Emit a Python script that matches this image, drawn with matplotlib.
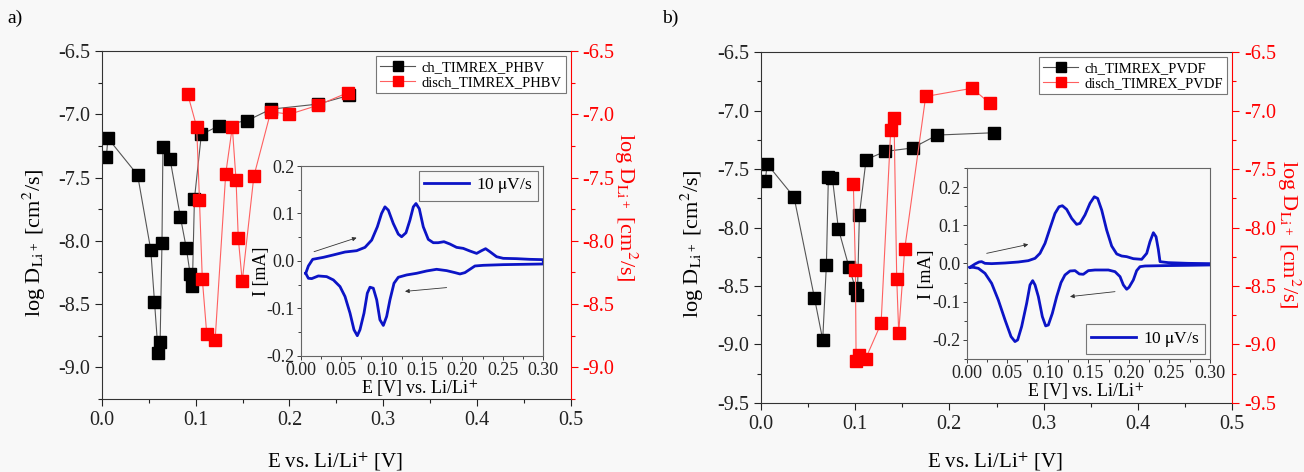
import numpy as np
import matplotlib
matplotlib.use("Agg")
import matplotlib.pyplot as plt
from matplotlib.ticker import MultipleLocator, FormatStrFormatter

plt.rcParams["font.family"] = ["Liberation Serif", "DejaVu Serif"]
plt.rcParams["mathtext.fontset"] = "stix"
plt.rcParams["axes.unicode_minus"] = False

# ---- panel a: TIMREX / PHBV ----
a_ch_E = [0.0046, 0.0064, 0.038, 0.052, 0.056, 0.060, 0.062, 0.064, 0.065, 0.0725,
          0.0836, 0.090, 0.094, 0.0964, 0.0986, 0.106, 0.125, 0.155, 0.180, 0.230, 0.264]
a_ch_D = [-7.34, -7.19, -7.48, -8.07, -8.48, -8.89, -8.80, -8.02, -7.26, -7.35,
          -7.81, -8.06, -8.26, -8.36, -7.67, -7.16, -7.09, -7.05, -6.96, -6.92, -6.85]
a_dis_E = [0.0914, 0.101, 0.104, 0.107, 0.1118, 0.1207, 0.132, 0.139, 0.143, 0.1454,
           0.1496, 0.162, 0.180, 0.200, 0.230, 0.262]
a_dis_D = [-6.84, -7.10, -7.68, -8.30, -8.74, -8.78, -7.47, -7.10, -7.52, -7.98,
           -8.32, -7.49, -6.98, -7.00, -6.93, -6.83]

# CV loop (10 uV/s), anodic branch left->right then cathodic branch right->left
a_cv_E = [0.0062, 0.0095, 0.0148, 0.028, 0.040, 0.0548, 0.0692, 0.0795, 0.0878, 0.0948,
          0.100, 0.1042, 0.1084, 0.1145, 0.1207, 0.1248, 0.1302, 0.1351, 0.1393, 0.1426,
          0.1467, 0.1516, 0.1578, 0.164, 0.170, 0.1772, 0.1846, 0.1928, 0.201, 0.2093,
          0.2176, 0.2237, 0.2287, 0.234, 0.2423, 0.2505, 0.267, 0.2835, 0.300,
          0.300, 0.2752, 0.2505, 0.2258, 0.2155, 0.2093, 0.2031, 0.197, 0.1908, 0.1805,
          0.1681, 0.1558, 0.1434, 0.131, 0.1207, 0.1154, 0.1104, 0.1063, 0.1022, 0.098,
          0.094, 0.0898, 0.0857, 0.0824, 0.0783, 0.0733, 0.070, 0.0659, 0.061, 0.0548,
          0.0486, 0.0404, 0.0321, 0.0218, 0.0136, 0.0095, 0.0062]
a_cv_I = [-0.026, -0.0105, 0.0035, 0.0077, 0.0126, 0.0189, 0.0217, 0.0287, 0.044, 0.072,
          0.100, 0.114, 0.107, 0.079, 0.0566, 0.051, 0.0594, 0.086, 0.114, 0.121,
          0.110, 0.072, 0.0455, 0.0385, 0.0385, 0.0406, 0.0357, 0.0287, 0.0266, 0.021,
          0.016, 0.0217, 0.0259, 0.0196, 0.009, 0.0056, 0.0049, 0.0035, 0.0028,
          -0.0063, -0.007, -0.0077, -0.0091, -0.0105, -0.0175, -0.0245, -0.0273, -0.0245, -0.0203,
          -0.0175, -0.021, -0.0259, -0.0294, -0.0343, -0.0469, -0.0818, -0.1168, -0.1357, -0.1238,
          -0.0818, -0.0573, -0.0552, -0.0678, -0.1098, -0.1448, -0.1573, -0.1448, -0.1098, -0.0748,
          -0.0538, -0.0399, -0.0329, -0.0315, -0.0371, -0.0364, -0.026]

# ---- panel b: TIMREX / PVDF ----
b_ch_E = [0.0046, 0.007, 0.0353, 0.0569, 0.0657, 0.0696, 0.0717, 0.076, 0.0823,
          0.0936, 0.1004, 0.1025, 0.1046, 0.1117, 0.1318, 0.161, 0.187, 0.247]
b_ch_D = [-7.60, -7.46, -7.74, -8.60, -8.96, -8.32, -7.57, -7.58, -8.01,
          -8.34, -8.52, -8.58, -7.89, -7.42, -7.35, -7.32, -7.21, -7.19]
b_dis_E = [0.0982, 0.1004, 0.1011, 0.1042, 0.1113, 0.1276, 0.1378, 0.1413, 0.1442,
           0.1463, 0.1527, 0.1749, 0.224, 0.2432]
b_dis_D = [-7.63, -8.36, -9.14, -9.09, -9.12, -8.82, -7.17, -7.06, -8.44,
           -8.90, -8.18, -6.88, -6.81, -6.94]

b_cv_E = [0.0041, 0.0103, 0.0152, 0.0185, 0.0226, 0.0308, 0.0473, 0.0637, 0.076, 0.0843,
          0.0904, 0.0966, 0.1027, 0.1089, 0.1139, 0.118, 0.1233, 0.1295, 0.1356, 0.1397,
          0.1459, 0.1521, 0.1574, 0.1615, 0.1665, 0.1726, 0.1788, 0.185, 0.1911, 0.1973,
          0.2055, 0.2158, 0.222, 0.226, 0.2302, 0.2335, 0.2363, 0.2384, 0.2487, 0.2733, 0.300,
          0.300, 0.2733, 0.2404, 0.2199, 0.2137, 0.2096, 0.2055, 0.2002, 0.1973, 0.1932,
          0.1891, 0.1829, 0.1747, 0.1582, 0.150, 0.1438, 0.1389, 0.1336, 0.1274, 0.1212,
          0.1163, 0.111, 0.1056, 0.1007, 0.0974, 0.0933, 0.0884, 0.0843, 0.0814, 0.0781,
          0.074, 0.0678, 0.0629, 0.0596, 0.0547, 0.0473, 0.039, 0.0308, 0.0226, 0.0144,
          0.0082, 0.0041]
b_cv_I = [-0.010, -0.0013, 0.0039, 0.0048, 0.0004, -0.0004, 0.0013, 0.0039, 0.0074, 0.0135,
          0.0266, 0.0527, 0.0919, 0.131, 0.1486, 0.1512, 0.1416, 0.118, 0.1024, 0.105,
          0.1272, 0.1577, 0.1747, 0.1704, 0.1399, 0.0876, 0.0457, 0.025, 0.0196, 0.0179,
          0.0126, 0.0109, 0.0266, 0.057, 0.0806, 0.070, 0.037, 0.0048, 0.0022, 0.0004, -0.0004,
          -0.0039, -0.0048, -0.0057, -0.0065, -0.0083, -0.0187, -0.0431, -0.0623, -0.0675, -0.0562,
          -0.0344, -0.0214, -0.017, -0.017, -0.0187, -0.0283, -0.0274, -0.0187, -0.0196, -0.0301,
          -0.0501, -0.0867, -0.1307, -0.161, -0.1634, -0.139, -0.0867, -0.0562, -0.0449, -0.0562,
          -0.1041, -0.1651, -0.200, -0.2044, -0.1913, -0.1477, -0.0954, -0.0519, -0.0257, -0.0126,
          -0.010, -0.010]

BG = "#f8f8f8"
BLUE = "#0c14c6"
YLAB = r"log D$_{\mathrm{Li^+}}$ [cm$^{2}$/s]"

fig = plt.figure(figsize=(13.04, 4.72), dpi=100, facecolor=BG)


def main_panel(rect, ch_E, ch_D, dis_E, dis_D, ylim, names, lab_pos):
    ax = fig.add_axes(rect)
    ax.set_facecolor(BG)
    ax.plot(ch_E, ch_D, "-s", color="#555555", lw=0.8, ms=8.5,
            mfc="black", mec="black", label=names[0])
    axr = ax.twinx()
    axr.plot(dis_E, dis_D, "-s", color="#ff6060", lw=0.8, ms=8.5,
             mfc="#ff0000", mec="#ff0000", label=names[1])

    ax.set_xlim(0, 0.5)
    ax.set_ylim(ylim)
    axr.set_ylim(ylim)
    for a in (ax, axr):
        a.yaxis.set_major_locator(MultipleLocator(0.5))
        a.yaxis.set_minor_locator(MultipleLocator(0.25))
        a.yaxis.set_major_formatter(FormatStrFormatter("%.1f"))
    ax.xaxis.set_major_locator(MultipleLocator(0.1))
    ax.xaxis.set_minor_locator(MultipleLocator(0.05))
    ax.xaxis.set_major_formatter(FormatStrFormatter("%.1f"))

    ax.tick_params(which="both", direction="out", width=0.8, labelsize=14.5,
                   colors="#222222", top=False, right=False)
    ax.tick_params(which="major", length=5)
    ax.tick_params(which="minor", length=3)
    axr.tick_params(which="both", direction="out", width=0.8, labelsize=14.5,
                    colors="red")
    axr.tick_params(which="major", length=5)
    axr.tick_params(which="minor", length=3)

    for s in ax.spines.values():
        s.set_color("#333333")
    ax.spines["right"].set_visible(False)
    for k in ("left", "top", "bottom"):
        axr.spines[k].set_visible(False)
    axr.spines["right"].set_color("red")

    ax.set_ylabel(YLAB, fontsize=16, ha="center", va="center")
    ax.yaxis.set_label_coords(lab_pos[0], lab_pos[1])
    axr.set_ylabel(YLAB, fontsize=16, color="red", rotation=270,
                   ha="center", va="center")
    axr.yaxis.set_label_coords(lab_pos[2], lab_pos[3])
    ax.set_xlabel(r"E vs. Li/Li$^{+}$ [V]", fontsize=15, ha="center", va="center")
    ax.xaxis.set_label_coords(0.497, lab_pos[4])

    h1, l1 = ax.get_legend_handles_labels()
    h2, l2 = axr.get_legend_handles_labels()
    leg = axr.legend(h1 + h2, l1 + l2, loc="upper right", fontsize=10.5,
                     fancybox=False, edgecolor="#777777", facecolor="white",
                     framealpha=1, borderaxespad=0.35, handlelength=2.4,
                     numpoints=1, borderpad=0.3, labelspacing=0.15,
                     handletextpad=0.4, markerscale=0.8)
    leg.get_frame().set_linewidth(0.8)
    return ax


def cv_inset(rect, E, I, ylim, legloc, arrows, lab_pos):
    ax = fig.add_axes(rect)
    ax.set_facecolor(BG)
    ax.plot(E, I, color=BLUE, lw=2.0, label=r"10 $\mathrm{\mu}$V/s")
    ax.set_xlim(0, 0.3)
    ax.set_ylim(ylim)
    ax.xaxis.set_major_locator(MultipleLocator(0.05))
    ax.xaxis.set_minor_locator(MultipleLocator(0.025))
    ax.xaxis.set_major_formatter(FormatStrFormatter("%.2f"))
    ax.yaxis.set_major_locator(MultipleLocator(0.1))
    ax.yaxis.set_minor_locator(MultipleLocator(0.05))
    ax.yaxis.set_major_formatter(FormatStrFormatter("%.1f"))
    ax.tick_params(which="both", direction="out", width=0.6, labelsize=13,
                   colors="#222222", pad=1.5)
    ax.tick_params(which="major", length=3)
    ax.tick_params(which="minor", length=2)
    for s in ax.spines.values():
        s.set_color("#666666")
        s.set_linewidth(0.8)
    for tail, head in arrows:
        ax.annotate("", xy=head, xytext=tail,
                    arrowprops=dict(arrowstyle="-|>", color="#333333", lw=0.6,
                                    mutation_scale=6, shrinkA=0, shrinkB=0))
    ax.set_ylabel("I [mA]", fontsize=13, ha="center", va="center")
    ax.yaxis.set_label_coords(lab_pos[0], lab_pos[1])
    ax.set_xlabel(r"E [V] vs. Li/Li$^{+}$", fontsize=13, ha="center", va="center")
    ax.xaxis.set_label_coords(0.49, lab_pos[2])
    leg = ax.legend(loc=legloc, fontsize=12.5, fancybox=False, edgecolor="#777777",
                    facecolor=BG, framealpha=1, borderaxespad=0.3,
                    handlelength=2.6, borderpad=0.3, handletextpad=0.4)
    leg.get_frame().set_linewidth(0.8)
    return ax


main_panel([0.0782, 0.1547, 0.3595, 0.7373], a_ch_E, a_ch_D, a_dis_E, a_dis_D,
           (-9.25, -6.5), ["ch_TIMREX_PHBV", "disch_TIMREX_PHBV"],
           (-0.145, 0.45, 1.118, 0.55, -0.181))
cv_inset([0.2306, 0.2458, 0.186, 0.4025], a_cv_E, a_cv_I, (-0.2, 0.2), "upper right",
         [((0.0165, 0.0196), (0.0692, 0.049)), ((0.1805, -0.056), (0.129, -0.064))],
         (-0.16, 0.447, -0.175))

main_panel([0.5834, 0.1462, 0.3616, 0.7436], b_ch_E, b_ch_D, b_dis_E, b_dis_D,
           (-9.5, -6.5), ["ch_TIMREX_PVDF", "disch_TIMREX_PVDF"],
           (-0.146, 0.453, 1.119, 0.48, -0.168))
cv_inset([0.7413, 0.2394, 0.1866, 0.4047], b_cv_E, b_cv_I, (-0.25, 0.25), "lower right",
         [((0.0247, 0.0266), (0.076, 0.050)), ((0.1829, -0.0737), (0.1274, -0.0867))],
         (-0.165, 0.445, -0.172))

fig.text(0.006, 0.962, "a)", fontsize=14, va="center")
fig.text(0.508, 0.962, "b)", fontsize=14, va="center")

fig.savefig("out.png", dpi=100, facecolor=BG)
